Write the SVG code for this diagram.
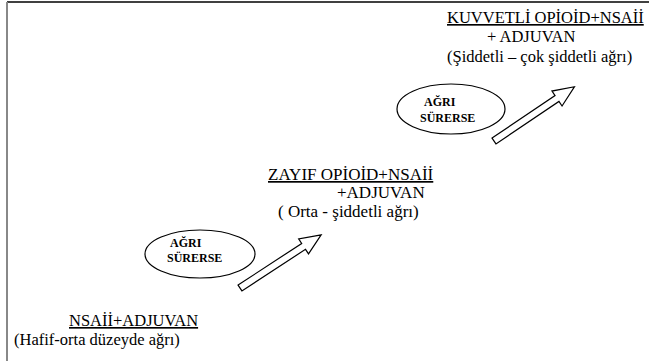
<svg xmlns="http://www.w3.org/2000/svg" width="649" height="361" viewBox="0 0 649 361">
<style>
text{font-family:'Liberation Serif','Times New Roman',serif;fill:#000}
.t{font-size:16.5px}
.t2{font-size:17px}
.u{text-decoration:underline}
.b{font-size:12px;font-weight:bold}
.e{fill:#fff;stroke:#000;stroke-width:1.2}
.a{fill:#fff;stroke:#000;stroke-width:1.2;stroke-linejoin:miter}
</style>
<defs>
<polygon id="arr" points="0,-3.5 76,-3.5 76,-9 97,0 76,9 76,3.5 0,3.5"/>
</defs>
<g id="frame">
<line x1="7" y1="2" x2="649" y2="2" stroke="#000" stroke-width="1.5"/>
<line x1="7" y1="2" x2="7" y2="361" stroke="#888" stroke-width="2"/>
</g>
<g id="connectors">
<use href="#arr" class="a" transform="translate(240,288) rotate(-33.2)"/>
<use href="#arr" class="a" transform="translate(494,141) rotate(-34)"/>
</g>
<g id="step1">
<text class="t u" x="69" y="326">NSAİİ+ADJUVAN</text>
<text class="t" x="14" y="345">(Hafif-orta düzeyde ağrı)</text>
</g>
<g id="cond1">
<ellipse class="e" cx="200" cy="254" rx="55" ry="24"/>
<text class="b" x="170" y="247">AĞRI</text>
<text class="b" x="167" y="262">SÜRERSE</text>
</g>
<g id="step2">
<text class="t2 u" x="268" y="180">ZAYIF OPİOİD+NSAİİ</text>
<text class="t2" x="337" y="198">+ADJUVAN</text>
<text class="t2" x="278" y="217">( Orta - şiddetli ağrı)</text>
</g>
<g id="cond2">
<ellipse class="e" cx="451" cy="109" rx="54" ry="25"/>
<text class="b" x="424" y="106">AĞRI</text>
<text class="b" x="420" y="122">SÜRERSE</text>
</g>
<g id="step3">
<text class="t u" x="447" y="23">KUVVETLİ OPİOİD+NSAİİ</text>
<text class="t" x="487" y="42">+ ADJUVAN</text>
<text class="t" x="447" y="62">(Şiddetli – çok şiddetli ağrı)</text>
</g>
</svg>
